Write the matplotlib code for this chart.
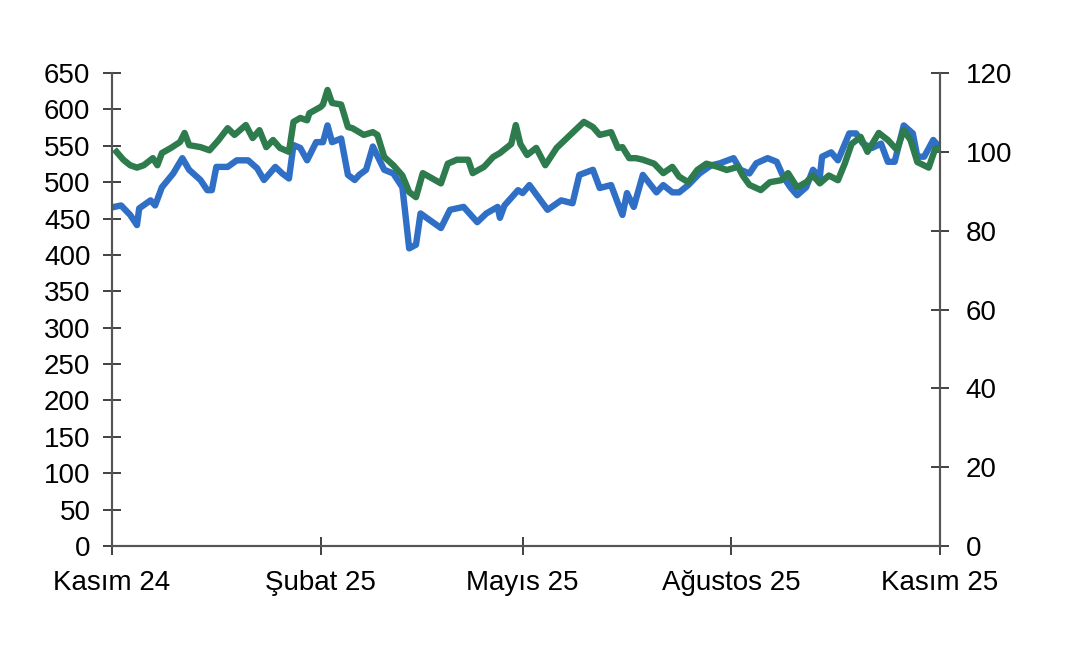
import matplotlib.pyplot as plt
import pandas as pd

start = pd.Timestamp('2024-11-01')

# blue series (left axis): day offset from 1 Nov 2024, value
blue_days = [1, 4, 8, 11, 12, 17, 19, 22, 27, 31, 34, 39, 42, 44, 46, 51, 55, 60, 64, 67,
             72, 75, 78, 80, 83, 86, 90, 93, 95, 97, 101, 104, 107, 109, 112, 115, 120, 124,
             128, 131, 134, 136, 140, 145, 149, 155, 161, 165, 170, 171, 173, 179, 181, 184,
             192, 198, 203, 206, 212, 215, 220, 223, 225, 227, 230, 234, 240, 243, 247, 250,
             254, 259, 264, 268, 274, 277, 281, 284, 289, 293, 296, 299, 302, 306, 309, 312,
             313, 317, 320, 325, 328, 331, 335, 339, 342, 345, 349, 353, 355, 358, 362, 365]
blue_vals = [466, 468, 455, 441, 464, 475, 468, 493, 512, 533, 517, 503, 489, 489, 521, 521,
             530, 530, 519, 503, 521, 512, 505, 551, 547, 530, 555, 555, 578, 555, 560, 510,
             503, 510, 517, 549, 517, 512, 493, 409, 414, 457, 448, 437, 462, 466, 445, 457,
             466, 451, 468, 489, 485, 496, 462, 475, 471, 510, 517, 492, 496, 471, 455, 485,
             466, 510, 486, 496, 486, 486, 496, 512, 523, 526, 533, 517, 512, 526, 533, 528,
             507, 493, 482, 493, 517, 507, 535, 541, 530, 567, 567, 553, 547, 553, 528, 528,
             578, 567, 535, 535, 558, 547]

# green series (right axis)
green_days = [2, 5, 8, 11, 14, 18, 20, 22, 26, 30, 32, 34, 39, 43, 47, 51, 54, 59, 62, 65,
              68, 71, 74, 78, 80, 83, 86, 87, 92, 93, 95, 97, 101, 104, 106, 111, 115, 117,
              120, 124, 128, 131, 134, 137, 141, 145, 148, 152, 157, 159, 164, 168, 171, 176,
              178, 180, 183, 187, 191, 196, 202, 208, 212, 215, 220, 223, 225, 228, 231, 234,
              239, 243, 247, 250, 254, 258, 262, 267, 271, 276, 278, 281, 286, 290, 295, 298,
              302, 306, 309, 312, 316, 320, 323, 326, 330, 333, 338, 342, 346, 349, 352, 355,
              360, 363, 365]
green_vals = [100, 98, 96.6, 96, 96.6, 98.4, 96.6, 99.7, 101, 102.5, 104.8, 101.7, 101.2,
              100.4, 103, 106, 104.3, 106.8, 103.5, 105.5, 101.2, 103, 101, 100, 107.6, 108.6,
              108, 109.8, 111.4, 112, 115.7, 112.4, 112, 106.3, 106, 104.3, 105, 104.3, 98.7,
              96.6, 94, 89.8, 88.5, 94.6, 93.3, 92, 97, 98, 98, 94.6, 96.2, 98.7, 99.7, 102,
              106.8, 102, 99.2, 101, 96.6, 101, 104.3, 107.6, 106.3, 104.3, 105, 101, 101.2,
              98.4, 98.4, 98, 97, 94.6, 96.2, 93.7, 92.3, 95.4, 97, 96.2, 95.4, 96.2, 94, 91.6,
              90.3, 92.3, 92.8, 94.6, 91, 92.3, 94, 92, 94, 92.8, 97, 102, 103.8, 100, 104.8,
              103, 100.5, 105.5, 103, 97.4, 96, 101, 100.5]

tick_dates = ['2024-11-01', '2025-02-01', '2025-05-01', '2025-08-01', '2025-11-01']
tick_labels = ['Kasım 24', 'Şubat 25', 'Mayıs 25', 'Ağustos 25', 'Kasım 25']

blue_x = start + pd.to_timedelta(blue_days, unit='D')
green_x = start + pd.to_timedelta(green_days, unit='D')

plt.rcParams['font.family'] = ['Liberation Sans', 'DejaVu Sans']
plt.rcParams['font.size'] = 20

fig = plt.figure(figsize=(10.8, 6.52), dpi=100)
ax = fig.add_axes([0.1037, 0.1626, 0.7667, 0.7254])
ax2 = ax.twinx()

ax.plot(blue_x, blue_vals, color='#2f6fc6', lw=4.6, solid_joinstyle='round', zorder=2)
ax2.plot(green_x, green_vals, color='#2e7b4e', lw=4.6, solid_joinstyle='round', zorder=3)

ax.set_ylim(0, 650)
ax.set_yticks(range(0, 651, 50))
ax2.set_ylim(0, 120)
ax2.set_yticks(range(0, 121, 20))
ax.set_xlim(pd.Timestamp(tick_dates[0]), pd.Timestamp(tick_dates[-1]))
ax.set_xticks(pd.to_datetime(tick_dates))
ax.set_xticklabels(tick_labels)

for a in (ax, ax2):
    a.spines['top'].set_visible(False)
    for s in a.spines.values():
        s.set_color('#555555')
        s.set_linewidth(1.5)
    a.tick_params(direction='inout', length=13, width=1.3, color='#333333', labelcolor='black')
ax.tick_params(axis='y', pad=9)
ax2.tick_params(axis='y', pad=12)
ax.tick_params(axis='x', pad=11)

fig.savefig('out.png', dpi=100)
